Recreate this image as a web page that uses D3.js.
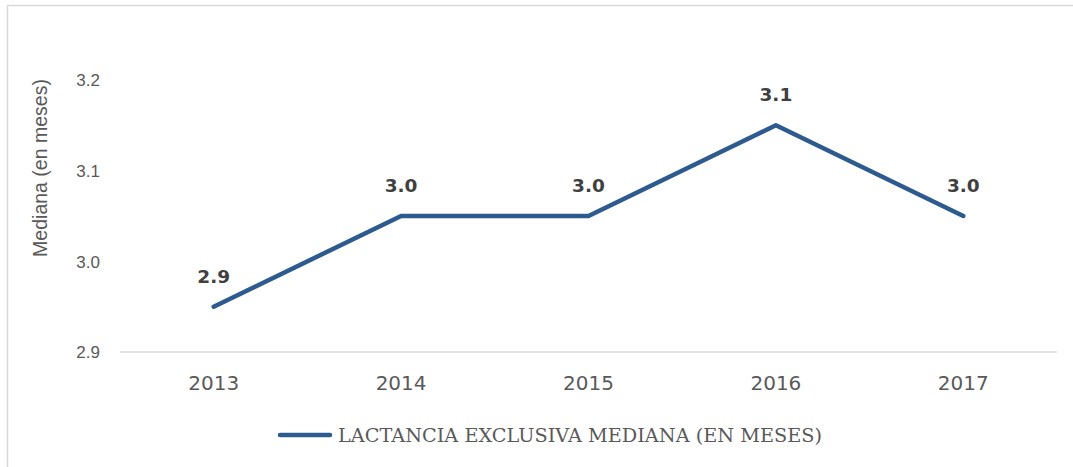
<!DOCTYPE html>
<html>
<head>
<meta charset="utf-8">
<script src="https://cdn.jsdelivr.net/npm/d3@7"></script>
<style>
  body { margin: 0; background: #fff; }
  svg { display: block; }
</style>
</head>
<body>
<script>
// data
var years = ["2013", "2014", "2015", "2016", "2017"];
var medianMonths = [2.95, 3.05, 3.05, 3.15, 3.05];
var valueLabels = ["2.9", "3.0", "3.0", "3.1", "3.0"];
var yTicks = [2.9, 3.0, 3.1, 3.2];
var seriesName = "LACTANCIA EXCLUSIVA MEDIANA (EN MESES)";
var yTitle = "Mediana (en meses)";

var W = 1073, H = 467;
var plot = {left: 120, right: 1057, top: 80, bottom: 352};
var lineColor = "#2e5b8f";

var svg = d3.select("body").append("svg")
    .attr("width", W)
    .attr("height", H);

svg.append("rect").attr("width", W).attr("height", H).attr("fill", "#fff");

// outer chart frame (only top and left edges show)
svg.append("rect")
    .attr("x", 7.5).attr("y", 5.5)
    .attr("width", W + 20).attr("height", H + 20)
    .attr("fill", "none")
    .attr("stroke", "#d9d9d9")
    .attr("stroke-width", 1.5);

var x = d3.scaleBand().domain(years).range([plot.left, plot.right]);
var y = d3.scaleLinear().domain([2.9, 3.2]).range([plot.bottom, plot.top]);

// baseline
svg.append("line")
    .attr("x1", plot.left).attr("x2", plot.right)
    .attr("y1", y(2.9)).attr("y2", y(2.9))
    .attr("stroke", "#d9d9d9")
    .attr("stroke-width", 1.5);

// y tick labels
var yAxis = svg.append("g")
    .attr("transform", "translate(100,0)")
    .call(d3.axisLeft(y).tickValues(yTicks).tickFormat(d3.format(".1f")).tickSize(0).tickPadding(0));
yAxis.select(".domain").remove();
yAxis.selectAll("text")
    .attr("dy", "0.35em")
    .style("font-family", "'Liberation Sans', Arial, sans-serif")
    .style("font-size", "17px")
    .style("fill", "#595959");

// x labels
var xAxis = svg.append("g")
    .attr("transform", "translate(0," + plot.bottom + ")")
    .call(d3.axisBottom(x).tickSize(0).tickPadding(0));
xAxis.select(".domain").remove();
xAxis.selectAll("text")
    .attr("y", 38)
    .attr("dy", 0)
    .style("font-family", "'DejaVu Sans', Verdana, sans-serif")
    .style("font-size", "20px")
    .style("fill", "#595959");

// y title
svg.append("text")
    .attr("transform", "translate(47," + ((plot.top - 2 + 258) / 2) + ") rotate(-90)")
    .attr("text-anchor", "middle")
    .style("font-family", "'Liberation Sans', Arial, sans-serif")
    .style("font-size", "19.5px")
    .style("fill", "#595959")
    .text(yTitle);

var pts = years.map(function (d, i) { return {year: d, v: medianMonths[i], label: valueLabels[i]}; });
var cx = function (d) { return x(d.year) + x.bandwidth() / 2; };

svg.append("path")
    .datum(pts)
    .attr("fill", "none")
    .attr("stroke", lineColor)
    .attr("stroke-width", 4.5)
    .attr("stroke-linejoin", "round")
    .attr("stroke-linecap", "round")
    .attr("d", d3.line().x(cx).y(function (d) { return y(d.v); }));

svg.selectAll(".vlab")
    .data(pts)
    .enter().append("text")
    .attr("class", "vlab")
    .attr("x", cx)
    .attr("y", function (d) { return y(d.v) - 24; })
    .attr("text-anchor", "middle")
    .style("font-family", "'DejaVu Sans', Verdana, sans-serif")
    .style("font-weight", "bold")
    .style("font-size", "18.5px")
    .style("fill", "#404040")
    .text(function (d) { return d.label; });

// legend
var leg = svg.append("g");
leg.append("line")
    .attr("x1", 280).attr("x2", 330)
    .attr("y1", 435).attr("y2", 435)
    .attr("stroke", lineColor)
    .attr("stroke-width", 4.5)
    .attr("stroke-linecap", "round");
leg.append("text")
    .attr("x", 338).attr("y", 442)
    .attr("textLength", 484)
    .attr("lengthAdjust", "spacingAndGlyphs")
    .style("font-family", "'DejaVu Serif', serif")
    .style("font-size", "19px")
    .style("fill", "#595959")
    .text(seriesName);
</script>
</body>
</html>
